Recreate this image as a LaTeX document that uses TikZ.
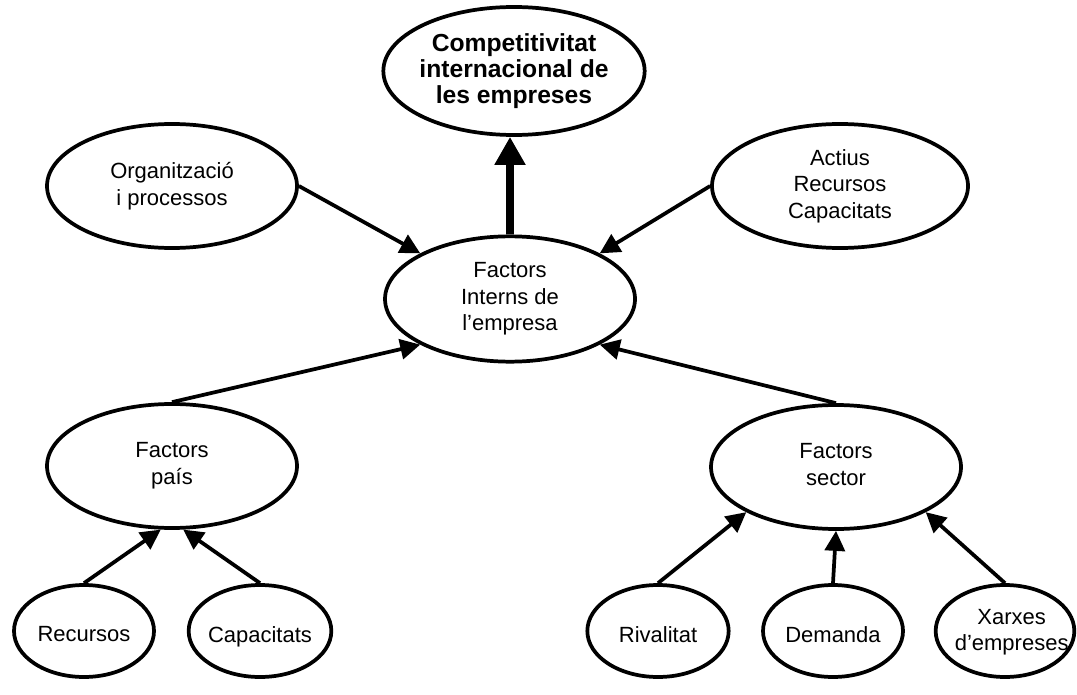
\documentclass[tikz,border=0pt]{standalone}
\usepackage{fontspec}
\setmainfont{Liberation Sans}
\usetikzlibrary{shapes.geometric,arrows.meta}
\begin{document}
\begin{tikzpicture}[x=0.75pt,y=-0.75pt,
  oval/.style={draw, ellipse, line width=2.8pt, inner sep=0pt},
  big/.style={oval, minimum width=187.5pt, minimum height=93pt},
  small/.style={oval, minimum width=105pt, minimum height=69pt},
  lbl/.style={align=center, inner sep=0pt, font=\fontsize{16.5}{20}\selectfont,
    execute at begin node=\vphantom{Ap}, execute at end node=\vphantom{gp}},
  headlbl/.style={align=center, inner sep=0pt, font=\fontsize{18.5}{19.5}\selectfont\bfseries,
    execute at begin node=\vphantom{Ap}, execute at end node=\vphantom{gp}},
  link/.style={line width=2.8pt, -{Triangle[length=15pt,width=15pt]}},
  mainlink/.style={line width=6pt, -{Triangle[length=21pt,width=22pt]}}
]
\useasboundingbox (0,0) rectangle (1077,695);

% ellipses
\node[oval, minimum width=196pt, minimum height=96pt] (top) at (514,71) {};
\node[big] (org) at (172,186) {};
\node[big, minimum width=192pt] (act) at (840,186) {};
\node[big, minimum height=94pt] (fi) at (510,299) {};
\node[big] (pais) at (172,466) {};
\node[big] (sector) at (836,467) {};
\node[small] (rec) at (84,631) {};
\node[small, minimum width=107pt] (cap) at (260,631) {};
\node[small, minimum width=106pt] (riv) at (658,631) {};
\node[small] (dem) at (833,631) {};
\node[small, minimum width=104pt] (xar) at (1005,631) {};

% labels
\node[headlbl] (t-top) at (top) {Competitivitat\\internacional de\\les empreses};
\node[lbl] (t-org) at (org) {Organització\\i processos};
\node[lbl] (t-act) at (act) {Actius\\Recursos\\Capacitats};
\node[lbl] (t-fi) at (fi) {Factors\\Interns de\\l’empresa};
\node[lbl] (t-pais) at (pais) {Factors\\país};
\node[lbl] (t-sector) at (sector) {Factors\\sector};
\node[lbl] (t-rec) at ([yshift=-4pt]rec) {Recursos};
\node[lbl] (t-cap) at ([yshift=-4pt]cap) {Capacitats};
\node[lbl] (t-riv) at ([yshift=-4pt]riv) {Rivalitat};
\node[lbl] (t-dem) at ([yshift=-4pt]dem) {Demanda};
\node[lbl] (t-xar) at ([xshift=5pt,yshift=-1pt]xar) {Xarxes\\d’empreses};

% connectors
\draw[mainlink] (fi.north) -- (fi.north |- top.south);
\draw[link] (org.east) -- (fi.north west);
\draw[link] (act.west) -- (fi.north east);
\draw[link] (pais.north) -- (fi.south west);
\draw[link] (sector.north) -- (fi.south east);
\draw[link] (rec.north) -- (pais.-100);
\draw[link] (cap.north) -- (pais.-80);
\draw[link] (riv.north) -- (sector.south west);
\draw[link] (dem.north) -- (sector.south);
\draw[link] (xar.north) -- (sector.south east);
\end{tikzpicture}
\end{document}
